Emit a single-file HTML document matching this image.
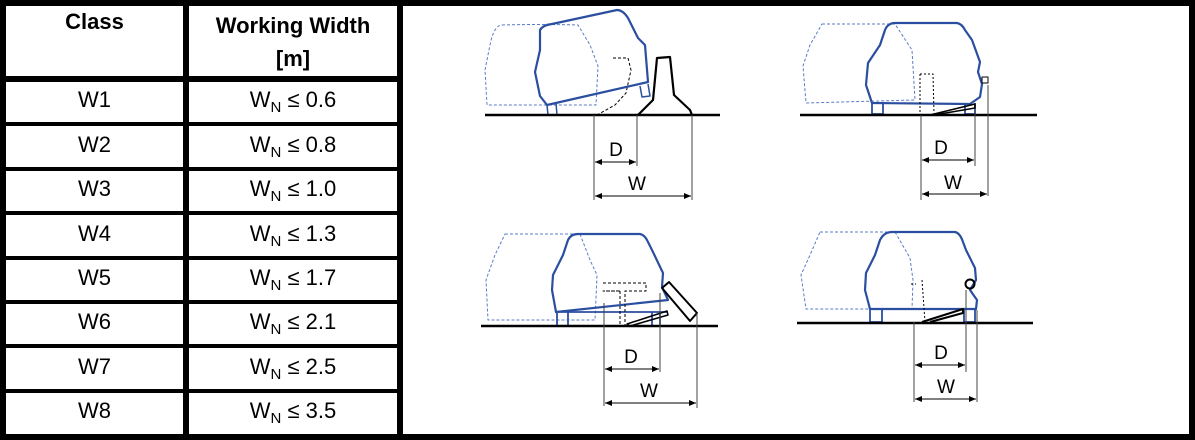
<!DOCTYPE html>
<html><head><meta charset="utf-8"><style>
body{margin:0;width:1195px;height:440px;background:#fff;position:relative;overflow:hidden;font-family:"Liberation Sans",sans-serif}
.b{position:absolute;background:#000}
.t{position:absolute;text-align:center;font-size:22px;color:#000}
.h{font-weight:bold;font-size:22px}
sub{font-size:15px;vertical-align:-5px}
</style></head><body>
<div class="b" style="left:0;top:0;width:1195px;height:6px"></div>
<div class="b" style="left:0;top:434px;width:1195px;height:6px"></div>
<div class="b" style="left:0;top:0;width:6px;height:440px"></div>
<div class="b" style="left:1189px;top:0;width:6px;height:440px"></div>
<div class="b" style="left:183px;top:0;width:6px;height:440px"></div>
<div class="b" style="left:397px;top:0;width:6px;height:440px"></div>
<div class="b" style="left:0;top:76px;width:400px;height:6px"></div>
<div class="b" style="left:0;top:122px;width:400px;height:4px"></div>
<div class="b" style="left:0;top:167px;width:400px;height:4px"></div>
<div class="b" style="left:0;top:211px;width:400px;height:4px"></div>
<div class="b" style="left:0;top:256px;width:400px;height:4px"></div>
<div class="b" style="left:0;top:300px;width:400px;height:4px"></div>
<div class="b" style="left:0;top:344px;width:400px;height:4px"></div>
<div class="b" style="left:0;top:389px;width:400px;height:4px"></div>

<div class="t h" style="left:6px;top:9px;width:177px">Class</div>
<div class="t h" style="left:189px;top:9px;width:208px;line-height:33px">Working Width<br>[m]</div>

<div class="t" style="left:6px;top:87px;width:177px">W1</div>
<div class="t" style="left:6px;top:132px;width:177px">W2</div>
<div class="t" style="left:6px;top:176px;width:177px">W3</div>
<div class="t" style="left:6px;top:221px;width:177px">W4</div>
<div class="t" style="left:6px;top:265px;width:177px">W5</div>
<div class="t" style="left:6px;top:309px;width:177px">W6</div>
<div class="t" style="left:6px;top:354px;width:177px">W7</div>
<div class="t" style="left:6px;top:398px;width:177px">W8</div>

<div class="t" style="left:189px;top:87px;width:208px">W<sub>N</sub> ≤ 0.6</div>
<div class="t" style="left:189px;top:132px;width:208px">W<sub>N</sub> ≤ 0.8</div>
<div class="t" style="left:189px;top:176px;width:208px">W<sub>N</sub> ≤ 1.0</div>
<div class="t" style="left:189px;top:221px;width:208px">W<sub>N</sub> ≤ 1.3</div>
<div class="t" style="left:189px;top:265px;width:208px">W<sub>N</sub> ≤ 1.7</div>
<div class="t" style="left:189px;top:309px;width:208px">W<sub>N</sub> ≤ 2.1</div>
<div class="t" style="left:189px;top:354px;width:208px">W<sub>N</sub> ≤ 2.5</div>
<div class="t" style="left:189px;top:398px;width:208px">W<sub>N</sub> ≤ 3.5</div>

<svg width="1195" height="440" style="position:absolute;left:0;top:0" font-family="Liberation Sans, sans-serif">
<defs><marker id="a" markerWidth="8" markerHeight="8" refX="7" refY="4" orient="auto-start-reverse"><path d="M0,1 L7,4 L0,7z" fill="#000"/></marker></defs>
<g fill="none" stroke-linejoin="round">
<!-- D1 -->
<path d="M502,25 Q540,24 578,25 L590,45 L598,66 L596,105 L487,105 L485,70 L490,45 Q494,25 502,25 Z" stroke="#5a7cc8" stroke-dasharray="3,2"/>
<path d="M613,58 L628,58 L631,70 L626,93 L615,105 L597,115" stroke="#000" stroke-dasharray="3,2"/>
<path d="M552,24 L617,10 Q623,10 628,18 L638,38 L645,45 L648,82 L547,105 L540,96 L535,72 L540,50 L540,30 Q543,25 552,24 Z" stroke="#2b4fa0" stroke-width="2.2"/>
<path d="M547,105 L548,115 L557,115 L556,103 M640,86 L642,97 L650,96 L648,84" stroke="#2b4fa0" stroke-width="1.5"/>
<path d="M638,115 L653,100 L657,58 L670,57 L674,95 L690,110 L692,115" stroke="#000" stroke-width="2.2"/>
<line x1="485" y1="115" x2="720" y2="115" stroke="#000" stroke-width="2.5"/>
<!-- D2 -->
<path d="M822,24 L895,24 L912,50 L915,100 L806,103 L803,66 L810,45 Z" stroke="#5a7cc8" stroke-dasharray="3,2"/>
<path d="M895,23 L957,23 Q962,24 965,30 L972,40 L980,62 L978,72 L982,84 L980,97 L970,104 L872,103 L866,85 L868,63 L880,45 L885,30 Q888,23 895,23 Z" stroke="#2b4fa0" stroke-width="2.2"/>
<path d="M872,103 L872,114 L883,114 L883,103 M965,104 L965,114 L975,114 L975,103" stroke="#2b4fa0" stroke-width="1.8"/>
<path d="M920,74 L933,74 L934,114 M920,74 L920,114" stroke="#000" stroke-dasharray="2,2"/>
<rect x="982" y="77" width="6" height="6" stroke="#000"/>
<path d="M930,115 L975,104 L975,108 L934,115" stroke="#000" stroke-width="1.5"/>
<line x1="800" y1="115" x2="1037" y2="115" stroke="#000" stroke-width="2.5"/>
<!-- D3 -->
<path d="M505,234 L580,234 L590,260 L597,275 L595,320 L488,320 L486,280 L495,255 Z" stroke="#5a7cc8" stroke-dasharray="3,2"/>
<path d="M578,234 L640,234 Q645,235 648,242 L652,250 L663,273 L662,287 L668,300 L556,312 L552,290 L553,275 L563,255 L568,240 Q571,234 578,234 Z" stroke="#2b4fa0" stroke-width="2.2"/>
<path d="M555,312 L668,312 M557,312 L557,326 M568,312 L568,326 M652,312 L652,326 M660,312 L660,326" stroke="#2b4fa0" stroke-width="1.8"/>
<path d="M603,283 L646,283 L646,291 L625,291 L625,326 M620,291 L620,326 M620,291 L603,291 Z" stroke="#000" stroke-dasharray="3,2"/>
<path d="M627,324 L667,311 L668,315 L630,326 Z" stroke="#000" stroke-width="1.5"/>
<path d="M662,288 L669,282 L697,313 L690,321 Z" stroke="#000" stroke-width="2"/>
<line x1="481" y1="326" x2="718" y2="326" stroke="#000" stroke-width="2.5"/>
<!-- D4 -->
<path d="M820,232 L895,232 L910,258 L913,280 L912,309 L806,309 L801,275 L810,255 Z" stroke="#5a7cc8" stroke-dasharray="3,2"/>
<path d="M892,232 L955,232 Q960,233 963,242 L966,250 L975,268 L976,280 L970,290 L977,300 L976,309 L870,309 L865,290 L866,273 L875,255 L880,240 Q884,232 892,232 Z" stroke="#2b4fa0" stroke-width="2.2"/>
<path d="M870,309 L870,322 L882,322 L882,309 M964,309 L964,322 L975,322 L975,309" stroke="#2b4fa0" stroke-width="1.8"/>
<circle cx="970" cy="284" r="4.5" stroke="#000" stroke-width="2"/>
<path d="M922,322 L963,309 L963,313 L930,322" stroke="#000" stroke-width="2"/>
<path d="M922,280 L925,322 M911,284 L916,284" stroke="#000" stroke-dasharray="2,2"/>
<line x1="797" y1="323" x2="1033" y2="323" stroke="#000" stroke-width="2.5"/>
<!-- dims -->
<g stroke="#444" stroke-width="1">
<path d="M594,115 V200 M637,115 V166 M692,115 V200"/>
<path d="M921,115 V200 M975,110 V166 M988,85 V196"/>
<path d="M604,303 V406 M660,293 V372 M697,313 V408"/>
<path d="M914,322 V402 M966,290 V372 M977,310 V402"/>
</g>
<g stroke="#000" stroke-width="1">
<line x1="595" y1="162" x2="636" y2="162" marker-start="url(#a)" marker-end="url(#a)"/>
<line x1="595" y1="196" x2="691" y2="196" marker-start="url(#a)" marker-end="url(#a)"/>
<line x1="922" y1="160" x2="974" y2="160" marker-start="url(#a)" marker-end="url(#a)"/>
<line x1="922" y1="194" x2="987" y2="194" marker-start="url(#a)" marker-end="url(#a)"/>
<line x1="605" y1="369" x2="659" y2="369" marker-start="url(#a)" marker-end="url(#a)"/>
<line x1="605" y1="403" x2="696" y2="403" marker-start="url(#a)" marker-end="url(#a)"/>
<line x1="915" y1="365" x2="965" y2="365" marker-start="url(#a)" marker-end="url(#a)"/>
<line x1="915" y1="399" x2="976" y2="399" marker-start="url(#a)" marker-end="url(#a)"/>
</g>
</g>
<g font-size="19" fill="#000" text-anchor="middle">
<text x="616" y="156">D</text><text x="637" y="190">W</text>
<text x="941" y="154">D</text><text x="953" y="189">W</text>
<text x="631" y="363">D</text><text x="649" y="397">W</text>
<text x="941" y="359">D</text><text x="946" y="393">W</text>
</g>
</svg>
</body></html>
